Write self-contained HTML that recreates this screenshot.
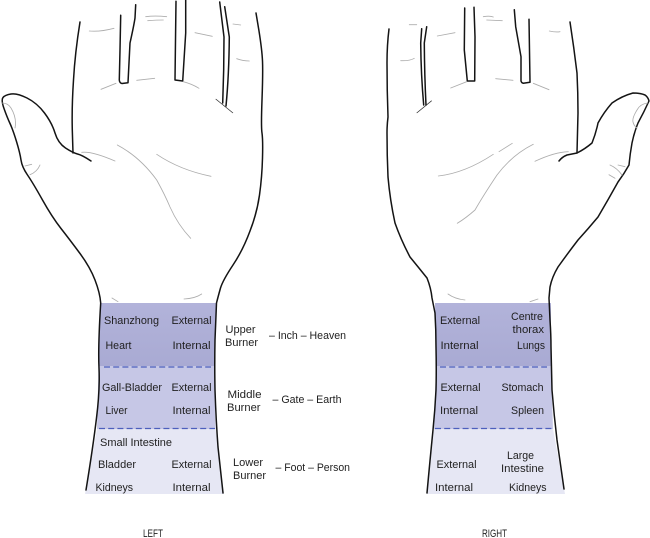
<!DOCTYPE html>
<html>
<head>
<meta charset="utf-8">
<style>
html,body{margin:0;padding:0;background:#fff;width:650px;height:538px;overflow:hidden}
svg{display:block}
text{font-family:"Liberation Sans",sans-serif;font-size:11.2px;fill:#1f1f1f}
.o{fill:none;stroke:#141414;stroke-width:1.5;stroke-linecap:round;stroke-linejoin:round}
.g{fill:none;stroke:#adadad;stroke-width:.85;stroke-linecap:round}
.d{fill:none;stroke:#4d5fbd;stroke-width:1.2;stroke-dasharray:6 3.2}
</style>
</head>
<body>
<svg width="650" height="538" viewBox="0 0 650 538" xmlns="http://www.w3.org/2000/svg">
<defs>
<linearGradient id="top" x1="0" y1="0" x2="0" y2="1">
<stop offset="0" stop-color="#b2b3da"/><stop offset="1" stop-color="#a9aad3"/>
</linearGradient>
</defs>

<!-- LEFT wrist bands -->
<polygon points="100.500,303 216,303 214,366 98.500,366" fill="url(#top)"/>
<polygon points="98.500,366 214,366 215.500,429 97,429" fill="#c6c7e6"/>
<polygon points="97,429 215.500,429 224,494 85,494" fill="#e6e7f4"/>
<path class="d" d="M104 367H211"/>
<path class="d" d="M99 428.500H215"/>

<!-- RIGHT wrist bands -->
<polygon points="435,303 551,303 551,366 436,366" fill="url(#top)"/>
<polygon points="436,366 551,366 553,429 434,429" fill="#c6c7e6"/>
<polygon points="434,429 553,429 565,494 427,494" fill="#e6e7f4"/>
<path class="d" d="M440 367H547"/>
<path class="d" d="M435 428.500H552"/>

<!-- LEFT hand outline -->
<path class="o" d="M80 22Q75 53 73.500 80Q71.700 107 72.300 130L73 153"/>
<path class="o" d="M91 161Q82 155 77.500 154Q72.700 152.700 65.500 148Q58 143 55 133Q52 123 44.500 113Q37 103 27 98Q17 93 11 94Q5 95 3 97.500Q1 100 4 108.500Q7 117 10 123.500Q13 130 16.500 141.500Q20 153 21 160Q22 167 27.500 175Q33 183 42.500 200Q52 217 61 228.500Q70 240 80 253.500Q90 267 95 280Q100 293 100.700 303Q98 347 99 368Q100 390 96.500 418Q93 447 86 490"/>
<path class="o" d="M256 13L259 31Q262 50 262.500 61Q263 73 262 100Q261 127 262 133Q263 140 262.500 158Q262 177 259.500 195Q257 213 250 231Q243 250 233 265Q223 280 220.500 288Q218 297 216.500 303L215 340Q214.500 365 215 390Q216 420 218 447L223 493"/>
<path class="o" d="M120.700 15.300L120 50L119.300 80Q119.500 83 122 83.500L128 82.700L130 43Q134 25 135 18L135.700 4.700"/>
<path class="o" d="M176 1.300L175.500 40L175 80L182.700 81L185.700 33L185.700 0"/>
<path class="o" d="M219.700 2L224 37Q224 70 222.700 103"/>
<path class="o" d="M224.700 6.700L229.300 37Q229 75 226 106"/>
<path d="M215.700 99L233 113" fill="none" stroke="#333" stroke-width=".8"/>

<!-- LEFT grey lines -->
<path class="g" d="M89.300 31Q100 32 114 28.300"/>
<path class="g" d="M145.700 16.700Q155 15.500 166.700 16.700"/>
<path class="g" d="M147.700 20.700Q157 20 163.300 20"/>
<path class="g" d="M195 32.700L212.300 36.300"/>
<path class="g" d="M233 24L240.700 25"/>
<path class="g" d="M236.700 58.700Q243 61 249.300 61"/>
<path class="g" d="M101 89.300L116 83.300"/>
<path class="g" d="M136.700 80.300L154.700 78.300"/>
<path class="g" d="M183.300 81.700Q192 84 199 88.300"/>
<path class="g" d="M81.700 152.300Q92 151 115 161"/>
<path class="g" d="M117.300 145Q140 157 156.700 180Q165 195 170 207Q178 225 190.700 238.300"/>
<path class="g" d="M156.700 154.300Q180 170 211 176.300"/>
<path class="g" d="M2 103Q8 103 11 108Q17 118 15 128"/>
<path class="g" d="M25 166L31.700 164.300"/>
<path class="g" d="M30 174.700Q37 172 40 165"/>
<path class="g" d="M112 298L118 301.700"/>
<path class="g" d="M184 299Q195 298.500 201.700 294"/>

<!-- RIGHT hand outline -->
<path class="o" d="M389 29Q387 45 387 63Q387 90 388 117Q387 125 387 133Q387 155 388 177Q390 200 395 223Q401 240 410 257Q419 268 427 278Q431 288 432 298L435 313Q436 330 436 347Q436.500 370 436 390Q435 410 433 430Q430 460 427 493"/>
<path class="o" d="M570 22Q574 48 577 73Q578 93 578 113L577 153"/>
<path class="o" d="M559 161Q562 157 567 155Q572 154 577 153Q585 149 592 143Q596 133 598 123Q604 112 612 103Q622 96 633 93Q640 93 645 95Q648 97 649 101Q644 112 638 123Q634 133 632 143Q630 154 629 165Q624 174 618 182Q608 200 598 217Q588 229 578 240Q568 253 558 267Q552 277 550 287L549 298L550 320Q551 335 551 347Q551.500 370 552 390Q554 415 557 440L564 489"/>
<path class="o" d="M421.700 28.700L420.700 43Q421 75 423.700 105"/>
<path class="o" d="M426.700 26.700L424.300 43Q424.500 75 426 105"/>
<path d="M416.700 113L431.700 100.700" fill="none" stroke="#333" stroke-width=".8"/>
<path class="o" d="M464.700 8L464.300 50L467.300 81L474.700 81L475 37L474 7.300"/>
<path class="o" d="M514.300 9.700L515.700 26.700L521 56.700L521 81Q521.500 83 523.300 83.300L530 82.300L529 19.300"/>

<!-- RIGHT grey lines -->
<path class="g" d="M409.300 24.700L416.700 24.700"/>
<path class="g" d="M437.300 36L455 32.700"/>
<path class="g" d="M483.300 16.700Q490 15.500 493.300 17"/>
<path class="g" d="M486.700 20L502.300 20.700"/>
<path class="g" d="M549.300 31Q556 32.500 560 31.700"/>
<path class="g" d="M400.700 60.700Q410 61 414.300 58.300"/>
<path class="g" d="M450.700 88L466.700 81.700"/>
<path class="g" d="M495.700 78.700L513 80.300"/>
<path class="g" d="M533.300 83.300L549 89.700"/>
<path class="g" d="M535 161.300Q555 152 568.300 151.700"/>
<path class="g" d="M438.300 176Q465 173 493.300 154.300"/>
<path class="g" d="M499 151.700L512.300 143.300"/>
<path class="g" d="M533.300 144.300Q512 155 497 175Q483 196 475 210Q466 218 457.300 223.300"/>
<path class="g" d="M647.700 103Q640 104 637 110Q632 118 633 122Q634 126 637 128"/>
<path class="g" d="M618 165L625 166.700"/>
<path class="g" d="M610 165Q617 168 622 175"/>
<path class="g" d="M609 174.700L615 178.300"/>
<path class="g" d="M448 294Q455 299 465 300"/>
<path class="g" d="M530 301.700L538 299"/>

<!-- LEFT labels -->
<text x="104" y="324" textLength="55" lengthAdjust="spacingAndGlyphs">Shanzhong</text>
<text x="171.500" y="324" textLength="40" lengthAdjust="spacingAndGlyphs">External</text>
<text x="105.500" y="349" textLength="26" lengthAdjust="spacingAndGlyphs">Heart</text>
<text x="172.500" y="349" textLength="38" lengthAdjust="spacingAndGlyphs">Internal</text>
<text x="102" y="391" textLength="60" lengthAdjust="spacingAndGlyphs">Gall-Bladder</text>
<text x="171.500" y="391" textLength="40" lengthAdjust="spacingAndGlyphs">External</text>
<text x="105.500" y="414" textLength="22" lengthAdjust="spacingAndGlyphs">Liver</text>
<text x="172.500" y="414" textLength="38" lengthAdjust="spacingAndGlyphs">Internal</text>
<text x="100" y="446" textLength="72" lengthAdjust="spacingAndGlyphs">Small Intestine</text>
<text x="98" y="468" textLength="38" lengthAdjust="spacingAndGlyphs">Bladder</text>
<text x="171.500" y="468" textLength="40" lengthAdjust="spacingAndGlyphs">External</text>
<text x="95.500" y="491" textLength="37.500" lengthAdjust="spacingAndGlyphs">Kidneys</text>
<text x="172.500" y="491" textLength="38" lengthAdjust="spacingAndGlyphs">Internal</text>

<text x="225.500" y="333" textLength="30" lengthAdjust="spacingAndGlyphs">Upper</text>
<text x="225" y="346" textLength="33" lengthAdjust="spacingAndGlyphs">Burner</text>
<text x="269" y="339" textLength="77" lengthAdjust="spacingAndGlyphs">– Inch – Heaven</text>
<text x="227.500" y="398" textLength="34" lengthAdjust="spacingAndGlyphs">Middle</text>
<text x="227" y="411" textLength="33.500" lengthAdjust="spacingAndGlyphs">Burner</text>
<text x="272.500" y="403" textLength="69" lengthAdjust="spacingAndGlyphs">– Gate – Earth</text>
<text x="233" y="466" textLength="30" lengthAdjust="spacingAndGlyphs">Lower</text>
<text x="233" y="479" textLength="33" lengthAdjust="spacingAndGlyphs">Burner</text>
<text x="275.500" y="471" textLength="74.500" lengthAdjust="spacingAndGlyphs">– Foot – Person</text>
<text x="143" y="537" textLength="20" lengthAdjust="spacingAndGlyphs">LEFT</text>

<!-- RIGHT labels -->
<text x="440" y="324" textLength="40" lengthAdjust="spacingAndGlyphs">External</text>
<text x="511" y="320" textLength="32" lengthAdjust="spacingAndGlyphs">Centre</text>
<text x="512.500" y="333" textLength="31.500" lengthAdjust="spacingAndGlyphs">thorax</text>
<text x="440.500" y="349" textLength="38" lengthAdjust="spacingAndGlyphs">Internal</text>
<text x="517" y="349" textLength="28" lengthAdjust="spacingAndGlyphs">Lungs</text>
<text x="440.500" y="391" textLength="40" lengthAdjust="spacingAndGlyphs">External</text>
<text x="501.500" y="391" textLength="42" lengthAdjust="spacingAndGlyphs">Stomach</text>
<text x="440" y="414" textLength="38" lengthAdjust="spacingAndGlyphs">Internal</text>
<text x="511" y="414" textLength="33" lengthAdjust="spacingAndGlyphs">Spleen</text>
<text x="507" y="459" textLength="27" lengthAdjust="spacingAndGlyphs">Large</text>
<text x="501" y="472" textLength="43" lengthAdjust="spacingAndGlyphs">Intestine</text>
<text x="436.500" y="468" textLength="40" lengthAdjust="spacingAndGlyphs">External</text>
<text x="435" y="491" textLength="38" lengthAdjust="spacingAndGlyphs">Internal</text>
<text x="509" y="491" textLength="37.500" lengthAdjust="spacingAndGlyphs">Kidneys</text>
<text x="482" y="537" textLength="25" lengthAdjust="spacingAndGlyphs">RIGHT</text>
</svg>
</body>
</html>
